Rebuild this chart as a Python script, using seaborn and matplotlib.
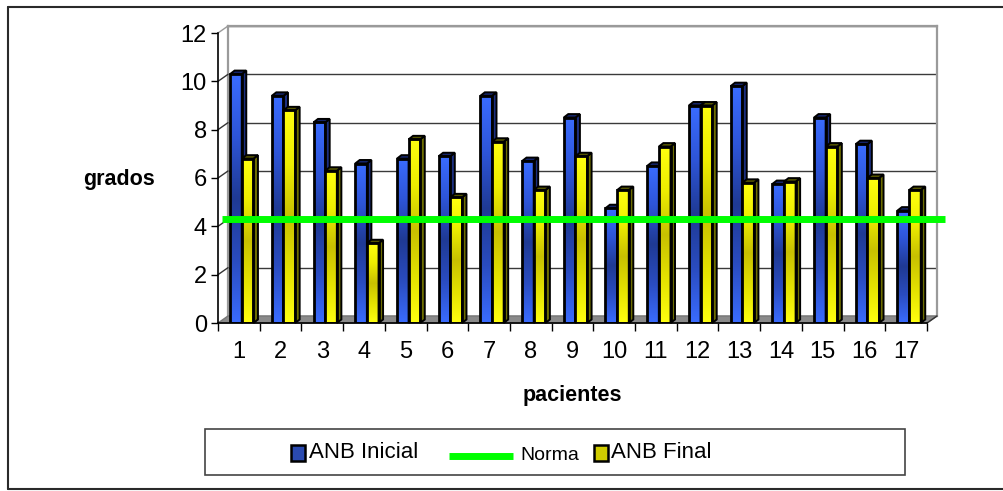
import numpy as np
import pandas as pd
import seaborn as sns
import matplotlib
matplotlib.use("Agg")
import matplotlib.pyplot as plt
from matplotlib.patches import Polygon, Rectangle
from matplotlib.lines import Line2D
from matplotlib.colors import LinearSegmentedColormap

# ---- data -------------------------------------------------------------
pacientes = [str(i) for i in range(1, 18)]
anb_inicial = [10.3, 9.4, 8.3, 6.6, 6.8, 6.9, 9.4, 6.7, 8.5, 4.75, 6.5, 9.0, 9.8, 5.75, 8.5, 7.4, 4.65]
anb_final = [6.8, 8.8, 6.3, 3.3, 7.6, 5.2, 7.5, 5.5, 6.9, 5.5, 7.3, 9.0, 5.8, 5.85, 7.3, 6.0, 5.5]
norma = 4
y_ticks = [0, 2, 4, 6, 8, 10, 12]
series = ["ANB Inicial", "ANB Final"]

# ---- style ------------------------------------------------------------
sns.set_style("white")
plt.rcParams["font.family"] = ["Liberation Sans", "DejaVu Sans"]
plt.rcParams.update({"text.color": "black", "xtick.color": "black",
                     "ytick.color": "black", "axes.labelcolor": "black"})

W, H = 1004, 491
fig = plt.figure(figsize=(W / 100, H / 100), dpi=100)
fig.patch.set_facecolor("white")


def fbox(l, t, r, b):
    """Pixel box (left, top, right, bottom) -> figure fraction rect."""
    return [l / W, 1 - b / H, (r - l) / W, (b - t) / H]


def fx(px):
    return px / W


def fy(py):
    return 1 - py / H


# back wall (offset up/right to give the 3-D look) and front axes
ax_wall = fig.add_axes(fbox(228, 26, 937, 316))
ax = fig.add_axes(fbox(218, 33, 927, 323))
for a in (ax_wall, ax):
    a.set_xlim(-0.5, len(pacientes) - 0.5)
    a.set_ylim(y_ticks[0], y_ticks[-1])

ax_wall.set_facecolor("white")
ax_wall.set_yticks(y_ticks)
ax_wall.set_xticks([])
ax_wall.tick_params(left=False, labelleft=False)
ax_wall.grid(axis="y", color="#3a3a3a", lw=1.0)
ax_wall.grid(axis="x", visible=False)
for s in ("left", "top", "right"):
    ax_wall.spines[s].set_color("#9a9a9a")
    ax_wall.spines[s].set_linewidth(1.6)
ax_wall.spines["bottom"].set_visible(False)

ax.patch.set_alpha(0)

# ---- bars ---------------------------------------------------------------
df = pd.DataFrame({
    "paciente": pacientes * 2,
    "grados": anb_inicial + anb_final,
    "serie": [series[0]] * len(pacientes) + [series[1]] * len(pacientes),
})
sns.barplot(data=df, x="paciente", y="grados", hue="serie", order=pacientes,
            hue_order=series, palette=["#3366ff", "#ffff00"], width=0.56,
            gap=0, errorbar=None, legend=False, ax=ax)
bars = list(ax.patches)
ax.set_xlim(-0.5, len(pacientes) - 0.5)
ax.set_ylim(y_ticks[0], y_ticks[-1])


def px_to_data(dxp, dyp):
    x0, y0 = ax.transData.transform((0, 0))
    return tuple(ax.transData.inverted().transform((x0 + dxp, y0 + dyp)))


bar_dx, bar_dy = px_to_data(4.5, 3.5)
wall_dx, wall_dy = px_to_data(10, 7)

cmaps = [
    LinearSegmentedColormap.from_list("az", ["#3a6cff", "#2e55d8", "#1f3a94", "#2a4cc0", "#3a6cff"]),
    LinearSegmentedColormap.from_list("am", ["#ffff10", "#eeee00", "#c8c000", "#e4e200", "#ffff10"]),
]
side_cols = ["#1c2f80", "#6e6e00"]
top_cols = ["#14246a", "#555500"]
grad = np.linspace(0, 1, 256).reshape(-1, 1)

n = len(pacientes)
for i, p in enumerate(bars):
    k = i // n
    z = 2 + 2 * k
    p.set_x(p.get_x() + 0.07)
    x, w, h = p.get_x(), p.get_width(), p.get_height()
    ax.imshow(grad, extent=(x, x + w, 0, h), origin="upper", cmap=cmaps[k],
              aspect="auto", zorder=z, interpolation="bilinear")
    p.set_facecolor("none")
    p.set_edgecolor("black")
    p.set_linewidth(2.0)
    p.set_zorder(z + 0.3)
    side = Polygon([(x + w, 0), (x + w, h), (x + w + bar_dx, h + bar_dy), (x + w + bar_dx, bar_dy)],
                   closed=True, facecolor=side_cols[k], edgecolor="black", lw=1.4,
                   zorder=z + 0.1, clip_on=False)
    top = Polygon([(x, h), (x + w, h), (x + w + bar_dx, h + bar_dy), (x + bar_dx, h + bar_dy)],
                  closed=True, facecolor=top_cols[k], edgecolor="black", lw=1.4,
                  zorder=z + 0.2, clip_on=False)
    ax.add_patch(side)
    ax.add_patch(top)

ax.set_xlim(-0.5, n - 0.5)
ax.set_ylim(y_ticks[0], y_ticks[-1])

# floor and left side wall
x_lo, x_hi = -0.5, n - 0.5
floor = Polygon([(x_lo, 0), (x_hi, 0), (x_hi + wall_dx, wall_dy), (x_lo + wall_dx, wall_dy)],
                closed=True, facecolor="#8a8a8a", edgecolor="#777777", lw=1.0,
                zorder=1, clip_on=False)
ax.add_patch(floor)
for t in y_ticks[1:]:
    col = "#9a9a9a" if t == y_ticks[-1] else "#333333"
    ax.add_line(Line2D([x_lo, x_lo + wall_dx], [t, t + wall_dy], color=col, lw=1.0,
                       zorder=1, clip_on=False))
ax.add_line(Line2D([x_hi, x_hi + wall_dx], [0, wall_dy], color="#333333", lw=1.0,
                   zorder=1, clip_on=False))

# reference line on the wall value scale
ax.plot([-0.0085, 1.0115], [norma, norma], transform=ax_wall.get_yaxis_transform(),
        color="#00ff00", lw=5, solid_capstyle="butt", zorder=20, clip_on=False)

# ---- axes ---------------------------------------------------------------
for s in ("top", "right"):
    ax.spines[s].set_visible(False)
for s in ("left", "bottom"):
    ax.spines[s].set_color("black")
    ax.spines[s].set_linewidth(1.2)
    ax.spines[s].set_zorder(15)

ax.set_yticks(y_ticks)
ax.set_yticklabels([str(t) for t in y_ticks])
ax.set_xticks(range(n))
ax.set_xticklabels(pacientes)
ax.set_xticks(np.arange(-0.5, n), minor=True)
ax.tick_params(axis="y", which="major", direction="out", length=5, width=1,
               color="black", labelcolor="black", labelsize=17, pad=3, left=True)
ax.tick_params(axis="x", which="major", length=0, labelsize=17, pad=13,
               labelcolor="black")
ax.tick_params(axis="x", which="minor", direction="out", length=6, width=1,
               color="black", bottom=True)
ax.set_xlabel("")
ax.set_ylabel("")

fig.text(fx(119), fy(180), "grados", ha="center", va="center",
         fontsize=15.5, fontweight="bold", color="black")
fig.text(fx(572), fy(396), "pacientes", ha="center", va="center",
         fontsize=15.5, fontweight="bold", color="black")

# ---- legend -------------------------------------------------------------
fig.add_artist(Rectangle((fx(205), fy(475)), (905 - 205) / W, (475 - 429) / H,
                         transform=fig.transFigure, fill=False, edgecolor="#444444", lw=1.2))
fig.add_artist(Rectangle((fx(291), fy(461)), 14 / W, 16 / H, transform=fig.transFigure,
                         facecolor="#2a4ab0", edgecolor="black", lw=1.8))
fig.text(fx(309), fy(453), series[0], ha="left", va="center", fontsize=16, color="black")
fig.add_artist(Line2D([fx(449), fx(513)], [fy(456), fy(456)], transform=fig.transFigure,
                      color="#00ff00", lw=5, solid_capstyle="butt"))
fig.text(fx(520), fy(455), "Norma", ha="left", va="center", fontsize=14, color="black")
fig.add_artist(Rectangle((fx(594), fy(461)), 14 / W, 16 / H, transform=fig.transFigure,
                         facecolor="#d0cc00", edgecolor="black", lw=1.8))
fig.text(fx(611), fy(453), series[1], ha="left", va="center", fontsize=16, color="black")

# chart area border (left, top and bottom edges)
for xs, ys in (([fx(8), fx(8)], [fy(7), fy(489)]),
               ([fx(8), 1.0], [fy(7), fy(7)]),
               ([fx(8), 1.0], [fy(489), fy(489)])):
    fig.add_artist(Line2D(xs, ys, transform=fig.transFigure, color="#2a2a2a", lw=1.5))

fig.savefig("out.png", dpi=100)
